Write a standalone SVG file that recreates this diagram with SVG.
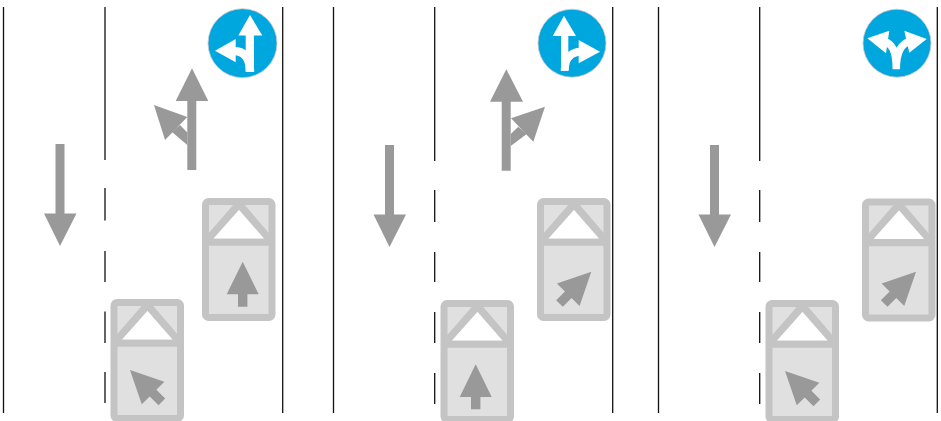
<svg xmlns="http://www.w3.org/2000/svg" width="941" height="421" viewBox="0 0 941 421">
<style>
.ln{stroke:#111;stroke-width:1.3;fill:none}
.ar{fill:#999}
.sg{fill:#00a6de;stroke:#d6c4ca;stroke-width:.8}
.wa{fill:#fff}
.ws{fill:none;stroke:#fff}
.cb{fill:#e0e0e0;stroke:#c4c4c4;stroke-width:7;stroke-linejoin:round}
.cl{fill:none;stroke:#c4c4c4;stroke-width:7.500}
</style>
<defs>
<g id="car">
<rect class="cb" x="3.5" y="3.5" width="66.5" height="116" rx="3"/>
<path class="cl" d="M4 44L37 6L69.500 44"/>
<path class="cl" d="M3.5 44H70"/>
<path d="M37 12L11.500 40.500H62Z" fill="#fff"/>
</g>
<path id="ga" class="ar" d="M0 0L16 32.6H4.7V45H-4.7V32.6H-16Z"/>
</defs>
<g id="lanes">
<path class="ln" d="M3.5 7V413M105 7V160M105 188V220.500M105 251V282M105 311.500V343M105 372V403M282.700 7V413"/>
<path class="ln" d="M333.500 7V413M434.700 7V161M434.700 190V222M434.700 252V282M434.700 312V343M434.700 373V404M612.700 7V413"/>
<path class="ln" d="M658.500 7V413M759.700 7V161M759.700 190V222M759.700 252V282M759.700 312V343M759.700 373V404M937.300 7V413"/>
</g>
<g id="panel1-down-arrow"><path class="ar" d="M55.500 144H64.500V213.500H76.500L60 246L44 213.500H55.500Z"/></g>
<g id="panel2-down-arrow"><path class="ar" d="M385 145H394V214.500H406L389.500 247L373.500 214.500H385Z"/></g>
<g id="panel3-down-arrow"><path class="ar" d="M710 145H719V214.500H731L714.500 247L698.500 214.500H710Z"/></g>
<g id="panel1-split-arrow"><path class="ar" d="M187.300 170V101H175.700L192 68.300L208.300 101H196.300V170Z"/><path class="ar" d="M154 105L187.300 117L165 140Z"/><path class="ar" d="M180 125L187.300 132.500V145L172 132Z"/></g>
<g id="panel2-split-arrow"><path class="ar" d="M501.700 170.700V101.700H490L506.300 69.300L523 101.700H510.700V170.700Z"/><path class="ar" d="M545 106.700L511 118.300L533.300 141.700Z"/><path class="ar" d="M518.300 126.700L510.700 134V146L526.700 134Z"/></g>
<g id="sign1"><circle class="sg" cx="242.500" cy="43.200" r="34.500"/><path class="wa" d="M250 15L262.300 35.500H254V71.700H245.700V35.500H238.300Z"/><path class="wa" d="M215 50.700L235.700 39V62.300Z"/><path class="ws" stroke-width="8.500" d="M234 51C243 51 250 57 250 71.700"/></g>
<g id="sign2"><circle class="sg" cx="572" cy="43.200" r="34"/><path class="wa" d="M564 15.700L576 36H568.300V70.700H561V36H552.700Z"/><path class="wa" d="M600 51.700L578.700 40V63.300Z"/><path class="ws" stroke-width="8" d="M581 51.700C572 51.700 564.700 57 564.700 70.700"/></g>
<g id="sign3"><circle class="sg" cx="897" cy="43.200" r="34"/><path class="wa" d="M867.300 38.300L889.300 30.700L886 53.300Z"/><path class="wa" d="M926.700 39L904.300 30.700L909.300 52.700Z"/><path class="ws" stroke-width="7.500" d="M884 41C892 44 896.300 50 896.300 69.300M910 41C902 44 896.300 50 896.300 69.300"/></g>
<g id="car1a"><use href="#car" x="202" y="198"/><use href="#ga" transform="translate(242.700 261.700)"/></g>
<g id="car1b"><use href="#car" x="110.500" y="299"/><use href="#ga" transform="translate(130 370) rotate(-45)"/></g>
<g id="car2a"><use href="#car" x="537" y="198"/><use href="#ga" transform="translate(591.300 271.700) rotate(45)"/></g>
<g id="car2b"><use href="#car" x="440.500" y="300"/><use href="#ga" transform="translate(475.700 364.300)"/></g>
<g id="car3a"><use href="#car" x="862" y="198.500"/><use href="#ga" transform="translate(916 271.700) rotate(45)"/></g>
<g id="car3b"><use href="#car" x="765.500" y="300"/><use href="#ga" transform="translate(785 371) rotate(-45)"/></g>
</svg>
